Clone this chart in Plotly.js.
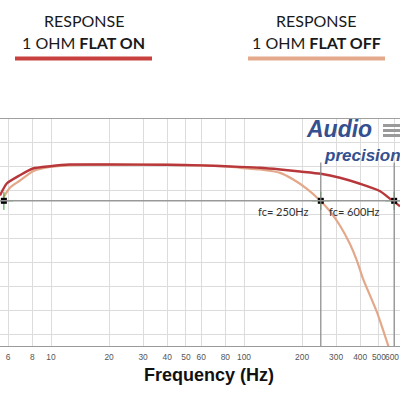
<!DOCTYPE html>
<html>
<head>
<meta charset="utf-8">
<script src="https://cdn.plot.ly/plotly-3.0.1.min.js"></script>
<style>html,body{margin:0;padding:0;background:#fff;}#chart{width:400px;height:400px;}</style>
</head>
<body>
<div id="chart"></div>
<script>
// ---- data ----
const onFreq = [5.44, 5.9, 6.9, 8.07, 9.9, 12.5, 20, 40, 60, 95, 121, 154, 195, 250, 314, 399, 507, 592, 643];
const onDb   = [-2.46, -1.46, -0.77, -0.21, -0.02, 0.12, 0.12, 0.1, 0.05, -0.07, -0.15, -0.29, -0.46, -0.65, -0.98, -1.48, -2.1, -2.93, -3.35];
const offFreq = [5.66, 6.14, 6.91, 8.07, 9.88, 12.1, 15, 20, 40, 60, 80, 95, 121, 154, 180, 212, 250, 279, 314, 354, 385, 414, 489, 557, 600];
const offDb   = [-2.63, -1.79, -1.21, -0.43, -0.07, 0.04, 0.1, 0.12, 0.1, 0.05, -0.03, -0.15, -0.29, -0.57, -1.12, -1.9, -2.93, -3.77, -4.96, -6.5, -7.9, -9.4, -12.2, -14.9, -16.5];
const cutoffFreq = [5.7, 250, 600];
const cutoffLevel = -2.9;
const cutoffLabels = ["fc= 250Hz", "fc= 600Hz"];
const tickVals = [6, 8, 10, 20, 30, 40, 50, 60, 80, 100, 200, 300, 400, 500, 600];
const tickText = ["6", "8", "10", "20", "30", "40", "50", "60", "80", "100", "200", "300", "400", "500", "600"];
const headerOn = ["RESPONSE", "1 OHM <b>FLAT ON</b>"];
const headerOff = ["RESPONSE", "1 OHM <b>FLAT OFF</b>"];
const xTitle = "Frequency (Hz)";
const logoText = ["Audio", "precision"];

// ---- layout helpers (pixel -> paper) ----
const T = 118, B = 346, H = B - T;
const py = p => (B - p) / H;
const px = p => p / 400;
const colOn = "#b8373a", colOff = "#e3a889";

// last tick label sits at the right edge: drawn as an edge-anchored annotation
const axisTickText = tickText.map((t, i) => i === tickText.length - 1 ? "" : t);
const tickFont = {family: "'Liberation Sans', Arial, sans-serif", size: 8.4, color: "#555"};

const traces = [
  {x: offFreq, y: offDb, mode: "lines", line: {color: colOff, width: 2.2, shape: "spline", smoothing: 0.6}, hoverinfo: "skip"},
  {x: onFreq, y: onDb, mode: "lines", line: {color: colOn, width: 2.4, shape: "spline", smoothing: 0.6}, hoverinfo: "skip"},
  {x: cutoffFreq, y: cutoffFreq.map(() => cutoffLevel), mode: "markers",
   marker: {symbol: "cross-thin-open", size: 13, line: {color: "#444", width: 1}}, hoverinfo: "skip"},
  {x: cutoffFreq, y: cutoffFreq.map(() => cutoffLevel), mode: "markers",
   marker: {symbol: "square", size: 6, color: "#000"}, hoverinfo: "skip"}
];

const shapes = [
  {type: "line", xref: "paper", yref: "y", x0: 0, x1: 1, y0: 4, y1: 4, line: {color: "#a0a0a0", width: 2}},
  {type: "line", xref: "paper", yref: "y", x0: 0, x1: 1, y0: cutoffLevel, y1: cutoffLevel, line: {color: "#999", width: 1.5}},
  {type: "line", xref: "x", yref: "y", x0: cutoffFreq[1], x1: cutoffFreq[1], y0: 0.3, y1: -15, line: {color: "#888", width: 1.2}},
  {type: "line", xref: "x", yref: "y", x0: cutoffFreq[2], x1: cutoffFreq[2], y0: 0.3, y1: -15, line: {color: "#888", width: 1.2}},
  {type: "line", xref: "paper", yref: "paper", x0: px(15), x1: px(152), y0: py(58.5), y1: py(58.5), line: {color: "#c8413f", width: 4}},
  {type: "line", xref: "paper", yref: "paper", x0: px(248), x1: px(385), y0: py(58.5), y1: py(58.5), line: {color: "#e4a98b", width: 4}},
  {type: "rect", xref: "paper", yref: "paper", x0: px(383), x1: px(400), y0: py(127), y1: py(124), fillcolor: "#9a9a9a", line: {width: 0}},
  {type: "rect", xref: "paper", yref: "paper", x0: px(383), x1: px(400), y0: py(132), y1: py(129), fillcolor: "#9a9a9a", line: {width: 0}},
  {type: "rect", xref: "paper", yref: "paper", x0: px(383), x1: px(400), y0: py(137), y1: py(134), fillcolor: "#9a9a9a", line: {width: 0}}
];

const hdrFont = {family: "Lato, 'Liberation Sans', sans-serif", size: 16, color: "#1a1a1a"};
const fcFont = {family: "Lato, 'Liberation Sans', sans-serif", size: 11, color: "#333"};
const annotations = [
  {xref: "paper", yref: "paper", x: px(84), y: py(21), text: headerOn[0], showarrow: false, font: hdrFont, xanchor: "center", yanchor: "middle"},
  {xref: "paper", yref: "paper", x: px(83), y: py(42.5), text: headerOn[1], showarrow: false, font: hdrFont, xanchor: "center", yanchor: "middle"},
  {xref: "paper", yref: "paper", x: px(316), y: py(21), text: headerOff[0], showarrow: false, font: hdrFont, xanchor: "center", yanchor: "middle"},
  {xref: "paper", yref: "paper", x: px(316), y: py(42.5), text: headerOff[1], showarrow: false, font: hdrFont, xanchor: "center", yanchor: "middle"},
  {xref: "x", yref: "y", x: Math.log10(cutoffFreq[1]), y: cutoffLevel, text: cutoffLabels[0], showarrow: false, xanchor: "right", yanchor: "middle", xshift: -10, yshift: -11, font: fcFont},
  {xref: "x", yref: "y", x: Math.log10(cutoffFreq[2]), y: cutoffLevel, text: cutoffLabels[1], showarrow: false, xanchor: "right", yanchor: "middle", xshift: -12, yshift: -11, font: fcFont},
  {xref: "paper", yref: "paper", x: 1, y: py(357), text: tickText[tickText.length - 1], showarrow: false, xanchor: "right", yanchor: "middle", font: tickFont, borderpad: 0},
  {xref: "paper", yref: "paper", x: px(209), y: py(375), text: "<b>" + xTitle + "</b>", showarrow: false, xanchor: "center", yanchor: "middle",
   font: {family: "'Liberation Sans', Arial, sans-serif", size: 18, color: "#111"}},
  {xref: "paper", yref: "paper", x: px(304), y: py(129), text: "<b><i>" + logoText[0] + "</i></b>", showarrow: false, xanchor: "left", yanchor: "middle",
   font: {family: "'Liberation Sans', Arial, sans-serif", size: 23, color: "#34508f"}},
  {xref: "paper", yref: "paper", x: px(322), y: py(155), text: "<b><i>" + logoText[1] + "</i></b>", showarrow: false, xanchor: "left", yanchor: "middle",
   font: {family: "'Liberation Sans', Arial, sans-serif", size: 17, color: "#34508f"}}
];

const layout = {
  width: 400, height: 400,
  margin: {l: 0, r: 0, t: T, b: 400 - B, pad: 0},
  paper_bgcolor: "#fff", plot_bgcolor: "#fff",
  showlegend: false,
  xaxis: {
    type: "log", range: [1 - 51 / 193, 1 + 349 / 193],
    tickmode: "array", tickvals: tickVals, ticktext: axisTickText,
    showgrid: true, gridcolor: "#dcdcdc", gridwidth: 1,
    showline: true, linecolor: "#9a9a9a", linewidth: 1,
    ticks: "", ticklabelstandoff: 3, tickangle: 0,
    tickfont: tickFont,
    zeroline: false, fixedrange: true
  },
  yaxis: {
    range: [-15, 4], tick0: 0, dtick: 2,
    showgrid: true, gridcolor: "#dcdcdc", gridwidth: 1,
    showticklabels: false, ticks: "", zeroline: false, showline: false, fixedrange: true
  },
  shapes: shapes,
  annotations: annotations
};

Plotly.newPlot("chart", traces, layout, {displayModeBar: false, staticPlot: true});
</script>
</body>
</html>
